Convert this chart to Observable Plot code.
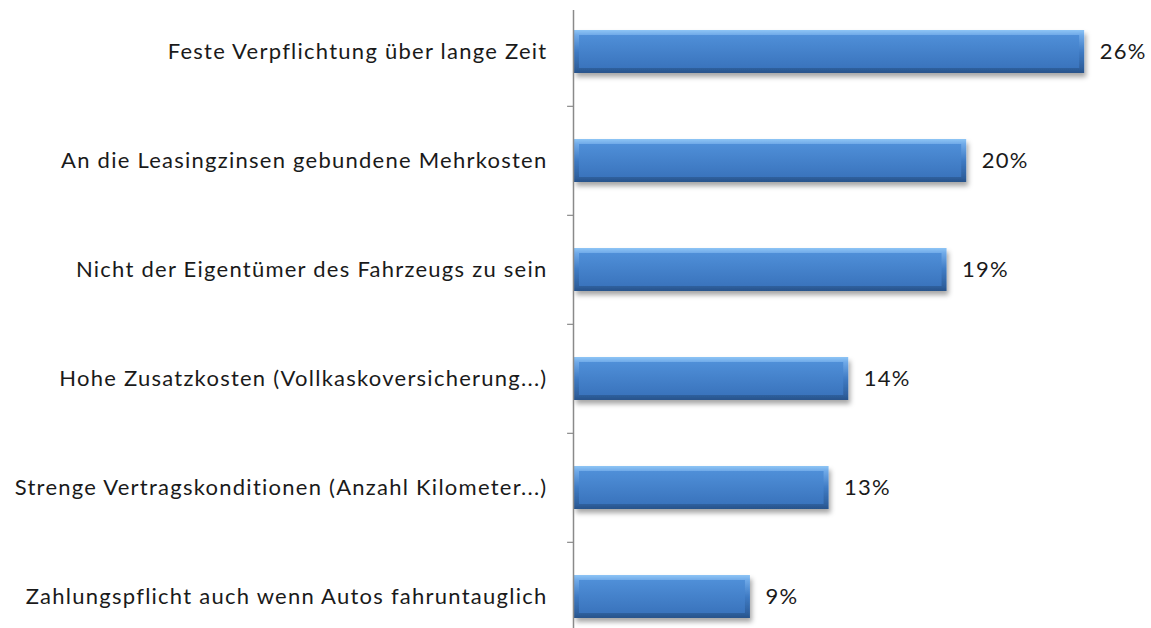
<!DOCTYPE html>
<html>
<head>
<meta charset="utf-8">
<script src="https://cdn.jsdelivr.net/npm/d3@7"></script>
<script src="https://cdn.jsdelivr.net/npm/@observablehq/plot@0.6"></script>
<style>
  html, body { margin: 0; padding: 0; background: #fff; }
  #chart { width: 1151px; height: 628px; overflow: hidden; }
</style>
</head>
<body>
<div id="chart"></div>
<script>
const categories = [
  "Feste Verpflichtung über lange Zeit",
  "An die Leasingzinsen gebundene Mehrkosten",
  "Nicht der Eigentümer des Fahrzeugs zu sein",
  "Hohe Zusatzkosten (Vollkaskoversicherung...)",
  "Strenge Vertragskonditionen (Anzahl Kilometer...)",
  "Zahlungspflicht auch wenn Autos fahruntauglich"
];
const values = [26, 20, 19, 14, 13, 9];

const data = categories.map((c, i) => ({label: c, value: values[i]}));
const boundaries = categories.slice(1);

const font = "Lato, sans-serif";

const chart = Plot.plot({
  width: 1151,
  height: 628,
  marginLeft: 573,
  marginRight: 0,
  marginTop: 0,
  marginBottom: 0,
  style: {fontFamily: font, background: "#fff", letterSpacing: "1.25px"},
  x: {domain: [0, 29.4], axis: null},
  y: {domain: categories, range: [-4, 652], paddingInner: 0.61, paddingOuter: 0.305, axis: null},
  marks: [
    Plot.barX(data, {x: "value", y: "label", fill: "url(#edgeGrad)", insetLeft: 1}),
    Plot.barX(data, {x: "value", y: "label", fill: "url(#faceGrad)", insetTop: 5, insetBottom: 5, insetLeft: 6, insetRight: 5}),
    Plot.ruleX([0], {stroke: "#8a8a8a", strokeWidth: 1.5, insetTop: 10}),
    Plot.ruleY(boundaries, {y: d => d, x1: -0.3, x2: 0, stroke: "#8a8a8a", strokeWidth: 1.2, dy: -54.67}),
    Plot.text(data, {x: 0, y: "label", text: "label", textAnchor: "end", dx: -26, fontSize: 22, fill: "#1a1a1a"}),
    Plot.text(data, {x: "value", y: "label", text: d => d.value + "%", textAnchor: "start", dx: 15, fontSize: 22, fill: "#1a1a1a"})
  ]
});

// gradients and shadow
const svg = d3.select(chart);
const defs = svg.insert("defs", ":first-child");
const edge = defs.append("linearGradient").attr("id", "edgeGrad").attr("x1", 0).attr("y1", 0).attr("x2", 0).attr("y2", 1);
edge.append("stop").attr("offset", "0%").attr("stop-color", "#8ec5f5");
edge.append("stop").attr("offset", "12%").attr("stop-color", "#6fa9e8");
edge.append("stop").attr("offset", "50%").attr("stop-color", "#3f7bc4");
edge.append("stop").attr("offset", "88%").attr("stop-color", "#2f619f");
edge.append("stop").attr("offset", "100%").attr("stop-color", "#28538a");
const face = defs.append("linearGradient").attr("id", "faceGrad").attr("x1", 0).attr("y1", 0).attr("x2", 0).attr("y2", 1);
face.append("stop").attr("offset", "0%").attr("stop-color", "#4f8fd8");
face.append("stop").attr("offset", "100%").attr("stop-color", "#3a74bd");
const filt = defs.append("filter").attr("id", "barShadow").attr("x", "-5%").attr("y", "-30%").attr("width", "115%").attr("height", "180%");
filt.append("feDropShadow").attr("dx", 2).attr("dy", 4).attr("stdDeviation", 2.5).attr("flood-color", "#000").attr("flood-opacity", 0.35);
svg.select("g[aria-label='bar']").attr("filter", "url(#barShadow)");

document.getElementById("chart").appendChild(chart);
</script>
</body>
</html>
